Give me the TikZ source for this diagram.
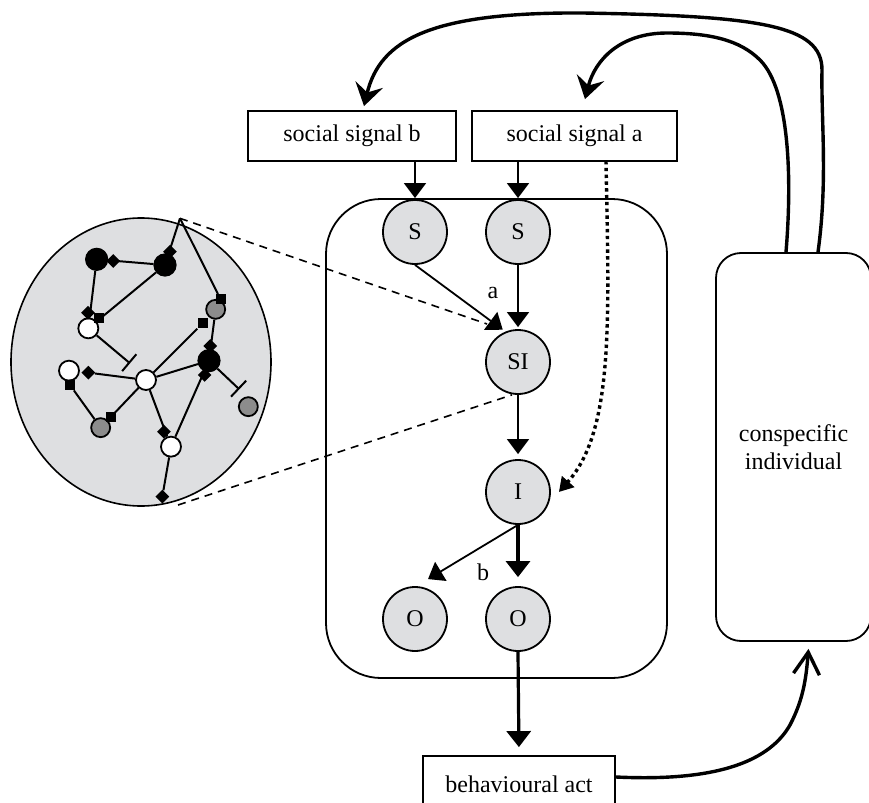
\documentclass[tikz,border=0pt]{standalone}
\usepackage{fontspec}
\setmainfont{Liberation Serif}
\usetikzlibrary{arrows.meta,shapes.geometric,calc}
\definecolor{nodegray}{RGB}{222,223,225}
\definecolor{midgray}{RGB}{140,140,140}
\begin{document}
\begin{tikzpicture}[x=0.5pt,y=-0.5pt,font=\fontsize{12}{14}\selectfont,
  box/.style={draw,line width=0.9pt,minimum height=25pt,inner sep=0pt},
  proc/.style={circle,draw,line width=0.9pt,fill=nodegray,minimum size=32pt,inner sep=0pt},
  arr/.style={line width=0.9pt,-{Triangle[width=11pt,length=7.5pt]}},
  tarr/.style={line width=1.6pt,-{Triangle[width=12pt,length=8pt]}},
  curv/.style={line width=1.7pt,-{Stealth[width=14pt,length=11pt,inset=4pt]}},
  dash2/.style={line width=0.8pt,dash pattern=on 4pt off 3pt},
  nblack/.style={circle,draw,line width=0.6pt,fill=black,minimum size=11pt,inner sep=0pt},
  nwhite/.style={circle,draw,line width=0.9pt,fill=white,minimum size=10pt,inner sep=0pt},
  ngray/.style={circle,draw,line width=0.9pt,fill=midgray,minimum size=9.5pt,inner sep=0pt},
  dia/.style={diamond,fill=black,minimum size=7pt,inner sep=0pt},
  sqm/.style={rectangle,fill=black,minimum size=5pt,inner sep=0pt},
  nl/.style={line width=1pt},
  inh/.style={line width=1pt,-{Bar[width=11pt]}}]
\useasboundingbox (0,0) rectangle (869,803);
\clip (0,0) rectangle (869,803);

% ---------- network inset ----------
\node[ellipse,draw,line width=0.8pt,fill=nodegray,minimum width=130pt,minimum height=144pt,inner sep=0pt] (net) at (141,362) {};
\begin{scope}[shift={(0,200)},scale=1/3]
  \coordinate (T) at (540,55);
  \coordinate (Bt) at (487,890);
  \coordinate (Q) at (608,370);
  \coordinate (bar1) at (390,490);
  \coordinate (bar2) at (718,568);
  \node[nblack] (A) at (290,178) {};
  \node[nblack] (B) at (495,195) {};
  \node[nwhite] (C) at (265,385) {};
  \node[nwhite] (D) at (207,512) {};
  \node[nwhite] (E) at (438,540) {};
  \node[nblack] (F) at (627,482) {};
  \node[ngray]  (G) at (647,328) {};
  \node[ngray]  (H) at (302,683) {};
  \node[nwhite] (J) at (513,740) {};
  \node[ngray]  (K) at (745,620) {};
  \node[dia] (m1) at (340,183) {};
  \node[dia] (m2) at (510,155) {};
  \node[sqm] (m3) at (662,298) {};
  \node[sqm] (m4) at (298,353) {};
  \node[dia] (m5) at (264,338) {};
  \node[dia] (m6) at (631,438) {};
  \node[dia] (m7) at (614,525) {};
  \node[sqm] (m8) at (Q) {};
  \node[dia] (m9) at (265,518) {};
  \node[sqm] (m10) at (210,555) {};
  \node[sqm] (m11) at (333,652) {};
  \node[dia] (m12) at (492,695) {};
  \node[dia] (m13) at (Bt) {};
  \draw[nl] (T) -- (B);
  \draw[nl] (T) -- (m3);
  \draw[nl] (A) -- (B);
  \draw[nl] (B) -- (C);
  \draw[nl] (A) -- (C);
  \draw[nl] (G) -- (F);
  \draw[nl] (E) -- (F);
  \draw[nl] (J) -- (F);
  \draw[nl] (E) -- (m8);
  \draw[nl] (E) -- (m9);
  \draw[nl] (m10) -- (H);
  \draw[nl] (D) -- (m10);
  \draw[nl] (E) -- (H);
  \draw[nl] (E) -- (J);
  \draw[nl] (J) -- (m13);
  \draw[inh] (C) -- (bar1);
  \draw[inh] (F) -- (bar2);
\end{scope}

% ---------- main nodes ----------
\node[box,minimum width=104pt] (sb) at (352,136) {social signal b};
\node[box,minimum width=102.5pt] (sa) at (574.5,136) {social signal a};
\node[draw,line width=0.9pt,rounded corners=27.5pt,minimum width=170.5pt,minimum height=239.5pt] (main) at (496.5,438.5) {};
\node[proc] (s1) at (415,232) {S};
\node[proc] (s2) at (518,232) {S};
\node[proc] (si) at (518,362) {SI};
\node[proc] (i)  at (518,492) {I};
\node[proc] (o1) at (415,619) {O};
\node[proc] (o2) at (518,619) {O};
\node[box,minimum width=96pt,minimum height=28pt] (ba) at (519,784) {behavioural act};
\node[draw,line width=0.9pt,rounded corners=12.5pt,minimum width=77.5pt,minimum height=194pt,align=center,inner sep=0pt] (ci) at (793.5,447) {conspecific\\individual};
\node (la) at (493,293) {a};
\node (lb) at (483,572) {b};

% ---------- dashed zoom lines ----------
\coordinate (dt) at (487,324);
\coordinate (nbot) at (178,505);
\draw[dash2] (T) -- (dt);
\draw[dash2] (nbot) -- ([xshift=-3pt]si.south);

% ---------- arrows ----------
\draw[arr] (sb.south -| s1) -- (s1 |- main.north);
\draw[arr] (sa.south -| s2) -- (s2 |- main.north);
\draw[arr] (s1.south) -- ([shift={(8,-9)}]si.north west);
\draw[arr] (s2.south) -- ([yshift=1pt]si.north);
\draw[arr,shorten >=2.5pt] (si.south) -- (i.north);
\draw[arr] (i.south) -- ([shift={(13,-7)}]o1.north);
\draw[tarr,shorten >=4.5pt] (i.south) -- (o2.north);
\draw[tarr,shorten >=4pt] (o2.south) -- (ba.north);

\coordinate (dstart) at (606,161);
\draw[line width=1.7pt,dash pattern=on 1.7pt off 1.7pt,-{Triangle[width=8pt,length=7pt]}]
  (dstart) .. controls (609,320) and (614,430) .. ([xshift=4pt]i.east);

\draw[curv] ([xshift=12.25pt]ci.north) .. controls (828,180) and (821,120) .. (822,70)
  .. controls (822,25) and (760,16) .. (583,13)
  .. controls (430,12) and (380,40) .. ([shift={(12,-4)}]sb.north);
\draw[curv] ([xshift=-3.75pt]ci.north) .. controls (792,180) and (790,90) .. (760,60)
  .. controls (740,40) and (710,33) .. (667,33)
  .. controls (620,33) and (595,60) .. ([shift={(10.5,-11)}]sa.north);
\draw[line width=1.7pt,-{Straight Barb[length=11pt,width=13pt]}]
  ([yshift=3.5pt]ba.east) .. controls (720,782) and (770,760) .. (790,725)
  .. controls (803,700) and (806,680) .. ([shift={(15,7)}]ci.south);
\end{tikzpicture}
\end{document}
